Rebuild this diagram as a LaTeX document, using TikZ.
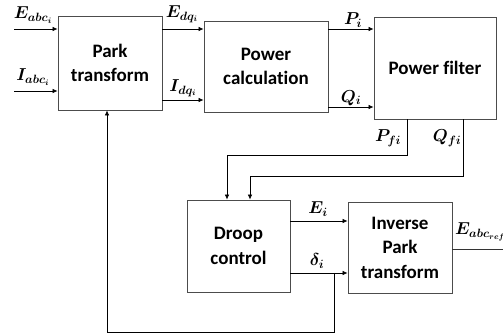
\documentclass[tikz,border=0pt]{standalone}
\usepackage{amsmath,bm}
\usepackage{fontspec}
\newfontfamily\boxfont[RawFeature={-liga,-dlig}]{Carlito}
\usetikzlibrary{arrows.meta}
\tikzset{
  blk/.style={draw=black!70, line width=0.8pt, align=center, font=\boxfont\bfseries\fontsize{19}{24.5}\selectfont, inner sep=0pt},
  arr/.style={draw=black, line width=0.7pt, -{Latex[length=5pt,width=4.5pt]}},
  ln/.style={draw=black!80, line width=0.7pt},
  lbl/.style={inner sep=0pt, font=\fontsize{16.5}{16.5}\selectfont},
}
\begin{document}
\begin{tikzpicture}[x=1pt,y=-1pt]
\useasboundingbox (0,0) rectangle (503,336);
\node[blk, minimum width=104pt, minimum height=94pt] (park) at (110,63) {Park\\transform};
\node[blk, minimum width=124pt, minimum height=91pt] (pc) at (266,66.5) {Power\\calculation};
\node[blk, minimum width=122pt, minimum height=102pt] (pf) at (435,68) {Power filter};
\node[blk, minimum width=103pt, minimum height=92pt] (droop) at (238.5,246) {Droop\\control};
\node[blk, minimum width=104pt, minimum height=91pt] (ipark) at (400,247.5) {Inverse\\Park\\transform};

\coordinate (ein) at (14,29);
\coordinate (iin) at (14,91);
\coordinate (eout) at (503,249);

\draw[arr] (ein) -- (park.west |- ein);
\draw[arr] (iin) -- (park.west |- iin);
\draw[arr] (park.east |- 0,29) -- (pc.west |- 0,29);
\draw[arr] (park.east |- 0,100) -- (pc.west |- 0,100);
\draw[arr] (pc.east |- 0,29) -- (pf.west |- 0,29);
\draw[arr] (pc.east |- 0,107) -- (pf.west |- 0,107);
\draw[arr] (pf.south -| 407,0) -- (407,155) -- (227,155) -- (droop.north -| 227,0);
\draw[arr] (pf.south -| 463,0) -- (463,176) -- (250,176) -- (droop.north -| 250,0);
\draw[arr] (droop.east |- 0,221) -- (ipark.west |- 0,221);
\draw[arr] (droop.east |- 0,273) -- (ipark.west |- 0,273);
\draw[ln] (ipark.east |- eout) -- (eout);
\draw[arr] (334,273) -- (334,332) -- (107,332) -- (park.south -| 107,0);

\node[lbl] (l1) at (33,15) {$\boldsymbol{E_{abc_i}}$};
\node[lbl] (l2) at (33,77) {$\boldsymbol{I_{abc_i}}$};
\node[lbl] (l3) at (182,14) {$\boldsymbol{E_{dq_i}}$};
\node[lbl] (l4) at (183,88) {$\boldsymbol{I_{dq_i}}$};
\node[lbl] (l5) at (353,20) {$\boldsymbol{P_i}$};
\node[lbl] (l6) at (351,98) {$\boldsymbol{Q_i}$};
\node[lbl] (l7) at (388,138) {$\boldsymbol{P_{fi}}$};
\node[lbl] (l8) at (447,138) {$\boldsymbol{Q_{fi}}$};
\node[lbl] (l9) at (318,209) {$\boldsymbol{E_i}$};
\node[lbl] (l10) at (317,261) {$\boldsymbol{\delta_i}$};
\node[lbl, anchor=west] (l11) at (455,232) {$\boldsymbol{E_{abc_{ref}}}$};
\end{tikzpicture}
\end{document}
